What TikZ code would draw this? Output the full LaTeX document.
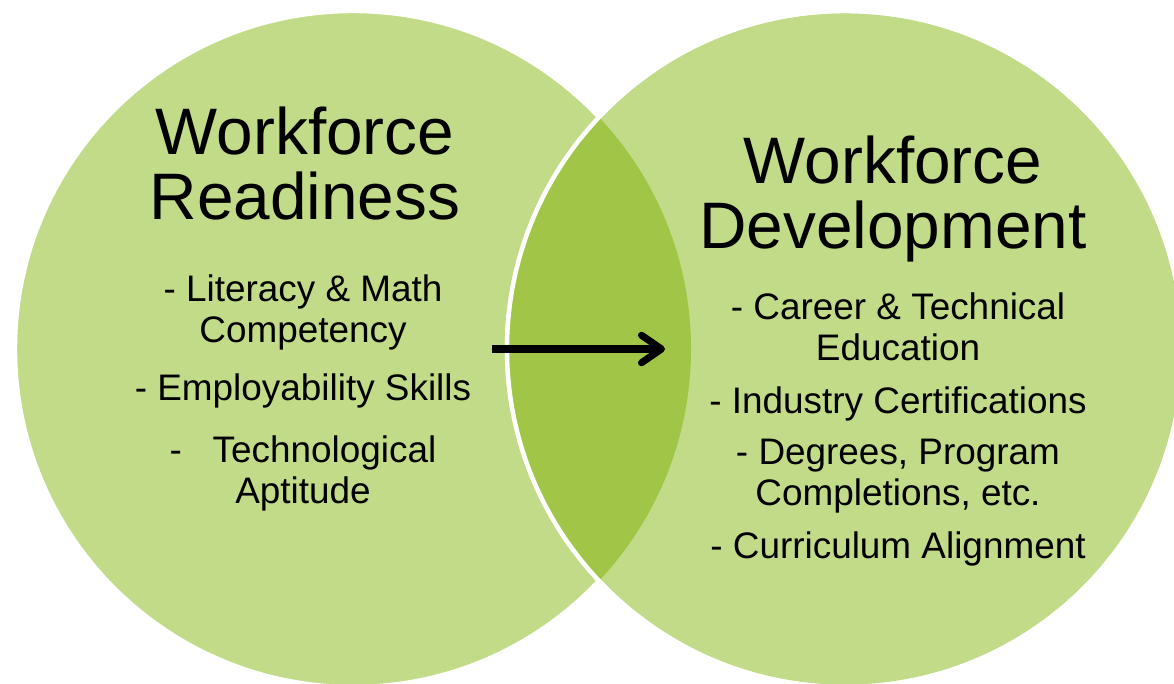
\documentclass[tikz,border=0pt]{standalone}
\usepackage{fontspec}
\setmainfont{Liberation Sans}
\usetikzlibrary{arrows.meta,positioning}
\definecolor{ringgreen}{HTML}{C2DB88}
\definecolor{lensgreen}{HTML}{A1C647}
\tikzset{ring/.style={fill=ringgreen, draw=white, line width=2.5pt},
  heading/.style={align=center, anchor=base, inner sep=0pt,
    font=\fontsize{37.4}{36.9}\selectfont},
  point/.style={align=center, anchor=base, inner sep=0pt,
    font=\fontsize{21}{23.3}\selectfont}}

\begin{document}
\begin{tikzpicture}[x=0.2mm, y=-0.2mm]
\useasboundingbox (0,0) rectangle (1174,683);

% the two sets
\coordinate (lc) at (353,349);
\coordinate (rc) at (845,349);
\path[ring] (lc) circle [radius=6.76cm];
\path[ring] (rc) circle [radius=6.76cm];
\begin{scope}
  \clip (lc) circle [radius=6.76cm];
  \fill[lensgreen] (rc) circle [radius=6.76cm];
\end{scope}
\draw[white, line width=2.5pt] (rc) circle [radius=6.76cm];

% left set (base = last line)
\node[heading] (readiness) at (305,219) {Workforce\\Readiness};
\node[point] (literacy) at (303,342) {- Literacy \& Math\\Competency};
\node[point] (employ) at (303,400) {- Employability Skills};
\node[point] (techno) at (303,503) {-~~~Technological\\Aptitude};

% right set
\node[heading] (development) at (893,248) {Workforce\\Development};
\node[point] (career) at (898,360) {- Career \& Technical\\Education};
\node[point] (industry) at (898,413) {- Industry Certifications};
\node[point] (degrees) at (898,505) {- Degrees, Program\\Completions, etc.};
\node[point] (curriculum) at (898,558) {- Curriculum Alignment};

% from one to the other
\coordinate (arrowtail) at (492,349);
\coordinate (arrowtip) at (665,349);
\draw[line width=4pt, -{Straight Barb[length=4mm, width=5.5mm, line cap=round, line join=round]}]
  (arrowtail) -- (arrowtip);
\end{tikzpicture}
\end{document}
